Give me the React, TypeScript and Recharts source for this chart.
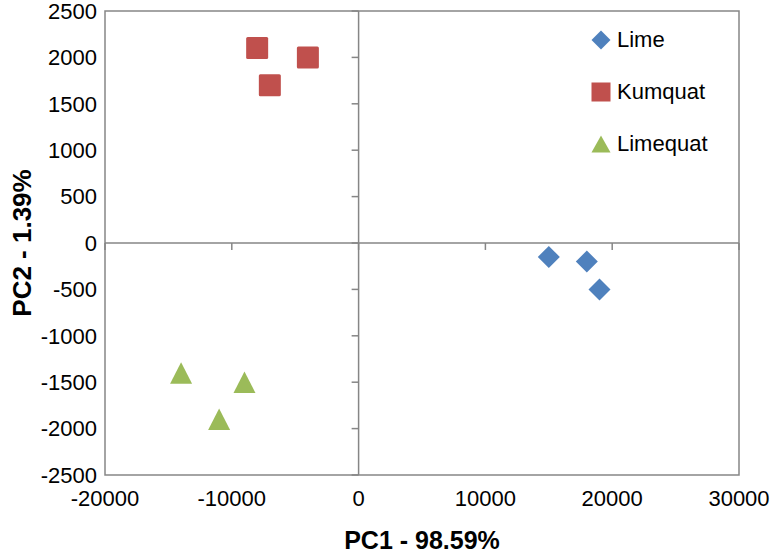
import {
  ScatterChart,
  Scatter,
  XAxis,
  YAxis,
  ReferenceLine,
  ReferenceArea,
  Legend,
  Label,
} from "recharts";

const seriesNames = ["Lime", "Kumquat", "Limequat"];
const limeX = [15000, 18000, 19000];
const limeY = [-150, -200, -500];
const kumquatX = [-8000, -4000, -7000];
const kumquatY = [2100, 2000, 1700];
const limequatX = [-14000, -9000, -11000];
const limequatY = [-1400, -1500, -1900];

const xTicks = [-20000, -10000, 0, 10000, 20000, 30000];
const yTicks = [
  -2500, -2000, -1500, -1000, -500, 0, 500, 1000, 1500, 2000, 2500,
];

const toPoints = (xs: number[], ys: number[]) =>
  xs.map((x, i) => ({ x, y: ys[i] }));

const limeData = toPoints(limeX, limeY);
const kumquatData = toPoints(kumquatX, kumquatY);
const limequatData = toPoints(limequatX, limequatY);

const BLUE = "#4F81BD";
const RED = "#C0504D";
const GREEN = "#9BBB59";
const AXIS = "#868686";
const FONT = "'Liberation Sans', Arial, sans-serif";

const Diamond = ({ cx, cy, fill }: any) => {
  const r = 11;
  return (
    <polygon
      points={`${cx},${cy - r} ${cx + r},${cy} ${cx},${cy + r} ${cx - r},${cy}`}
      fill={fill}
    />
  );
};

const Square = ({ cx, cy, fill }: any) => {
  const h = 11;
  return (
    <rect x={cx - h} y={cy - h} width={h * 2} height={h * 2} rx={1.5} fill={fill} />
  );
};

const Triangle = ({ cx, cy, fill }: any) => {
  const w = 11;
  const h = 10.75;
  return (
    <polygon
      points={`${cx},${cy - h} ${cx + w},${cy + h} ${cx - w},${cy + h}`}
      fill={fill}
    />
  );
};

const LegendIcon = ({ type, color }: { type: string; color: string }) => {
  let shape;
  if (type === "diamond") shape = <polygon points="10,0.5 19.5,10 10,19.5 0.5,10" fill={color} />;
  else if (type === "square") shape = <rect x={0.5} y={0.5} width={19} height={19} fill={color} />;
  else shape = <polygon points="10,1.5 19.5,18.5 0.5,18.5" fill={color} />;
  return (
    <svg width={20} height={20} style={{ marginRight: 6, display: "block" }}>
      {shape}
    </svg>
  );
};

// keep series order (recharts sorts legend items by name)
const CustomLegend = ({ payload }: any) => {
  const items = [...(payload || [])].sort(
    (a: any, b: any) => seriesNames.indexOf(a.value) - seriesNames.indexOf(b.value)
  );
  return (
    <div style={{ fontFamily: FONT, fontSize: 22, color: "#000" }}>
      {items.map((entry: any) => (
        <div
          key={entry.value}
          style={{ display: "flex", alignItems: "center", height: 52 }}
        >
          <LegendIcon type={entry.type} color={entry.color} />
          <span>{entry.value}</span>
        </div>
      ))}
    </div>
  );
};

const YTitle = ({ viewBox }: any) => {
  const x = viewBox.x + 31;
  const y = viewBox.y + viewBox.height / 2;
  return (
    <text
      x={x}
      y={y}
      transform={`rotate(-90, ${x}, ${y})`}
      textAnchor="middle"
      fontFamily={FONT}
      fontSize={26}
      fontWeight="bold"
      fill="#000"
    >
      PC2 - 1.39%
    </text>
  );
};

export default function App() {
  return (
    <div style={{ position: "absolute", left: 0, top: 0 }}>
      <ScatterChart
        width={774}
        height={555}
        margin={{ top: 11, right: 35, left: 0, bottom: 0 }}
      >
        <XAxis
          type="number"
          dataKey="x"
          domain={[-20000, 30000]}
          ticks={xTicks}
          height={80}
          axisLine={false}
          tickLine={false}
          tickSize={0}
          tickMargin={15}
          interval={0}
          tick={{ fill: "#000", fontSize: 22, fontFamily: FONT }}
        >
          <Label
            value="PC1 - 98.59%"
            position="insideBottom"
            offset={6}
            style={{
              fontFamily: FONT,
              fontSize: 25,
              fontWeight: "bold",
              fill: "#000",
            }}
          />
        </XAxis>
        <YAxis
          type="number"
          dataKey="y"
          domain={[-2500, 2500]}
          ticks={yTicks}
          width={105}
          axisLine={false}
          tickLine={false}
          tickSize={0}
          tickMargin={8}
          interval={0}
          tick={{ fill: "#000", fontSize: 22, fontFamily: FONT }}
        >
          <Label content={<YTitle />} />
        </YAxis>
        <ReferenceArea
          x1={-20000}
          x2={30000}
          y1={-2500}
          y2={2500}
          fill="none"
          stroke={AXIS}
          strokeWidth={1.5}
          ifOverflow="visible"
        />
        <ReferenceLine x={0} stroke={AXIS} strokeWidth={1.5} />
        <ReferenceLine y={0} stroke={AXIS} strokeWidth={1.5} />
        {xTicks.map((t) => (
          <ReferenceLine
            key={`xt-${t}`}
            segment={[
              { x: t, y: 0 },
              { x: t, y: -75 },
            ]}
            stroke={AXIS}
            strokeWidth={1.5}
            ifOverflow="visible"
          />
        ))}
        {yTicks.map((t) => (
          <ReferenceLine
            key={`yt-${t}`}
            segment={[
              { x: 0, y: t },
              { x: -550, y: t },
            ]}
            stroke={AXIS}
            strokeWidth={1.5}
            ifOverflow="visible"
          />
        ))}
        <Legend
          layout="horizontal"
          verticalAlign="middle"
          align="center"
          content={<CustomLegend />}
          wrapperStyle={{ top: 14, left: 591, width: 160, bottom: "auto", right: "auto" }}
        />
        <Scatter
          name="Lime"
          data={limeData}
          fill={BLUE}
          legendType="diamond"
          shape={<Diamond />}
          isAnimationActive={false}
        />
        <Scatter
          name="Kumquat"
          data={kumquatData}
          fill={RED}
          legendType="square"
          shape={<Square />}
          isAnimationActive={false}
        />
        <Scatter
          name="Limequat"
          data={limequatData}
          fill={GREEN}
          legendType="triangle"
          shape={<Triangle />}
          isAnimationActive={false}
        />
      </ScatterChart>
    </div>
  );
}
